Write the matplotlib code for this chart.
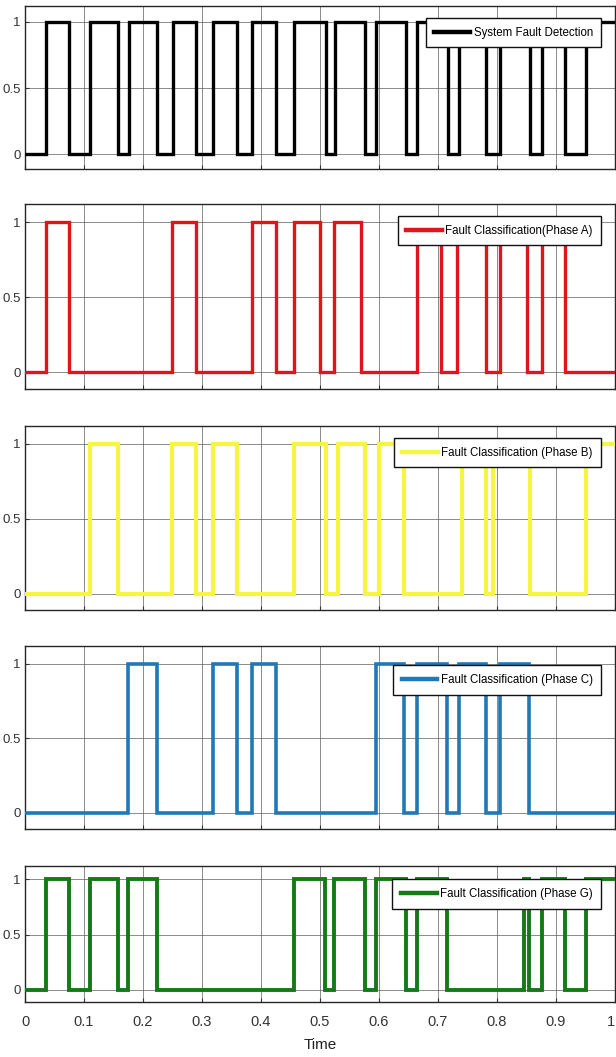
import matplotlib
matplotlib.use('Agg')
import matplotlib.pyplot as plt
from matplotlib import font_manager
import numpy as np

names = set(f.name for f in font_manager.fontManager.ttflist)
FONT = 'Liberation Sans Narrow' if 'Liberation Sans Narrow' in names else 'Liberation Sans'
plt.rcParams['font.family'] = [FONT, 'DejaVu Sans']

# switching instants (s), every signal starts at 0 and toggles at each instant
fault_detection = [0.035, 0.075, 0.110, 0.158, 0.176, 0.224, 0.250, 0.289, 0.319, 0.359,
                   0.385, 0.426, 0.456, 0.510, 0.526, 0.576, 0.595, 0.645, 0.665, 0.717,
                   0.735, 0.781, 0.805, 0.856, 0.876, 0.916, 0.951]
phase_a = [0.035, 0.075, 0.249, 0.289, 0.385, 0.426, 0.456, 0.500, 0.524, 0.569,
           0.665, 0.705, 0.733, 0.781, 0.805, 0.850, 0.876, 0.916]
phase_b = [0.110, 0.158, 0.249, 0.289, 0.319, 0.359, 0.456, 0.510, 0.530, 0.576,
           0.600, 0.643, 0.740, 0.781, 0.793, 0.856, 0.951]
phase_c = [0.174, 0.224, 0.319, 0.359, 0.385, 0.426, 0.595, 0.643, 0.665, 0.715,
           0.735, 0.781, 0.805, 0.855]
phase_g = [0.035, 0.075, 0.110, 0.158, 0.174, 0.224, 0.456, 0.509, 0.524, 0.576,
           0.595, 0.645, 0.665, 0.715, 0.846, 0.855, 0.876, 0.916, 0.951]

signals = [fault_detection, phase_a, phase_b, phase_c, phase_g]
labels = ['System Fault Detection', 'Fault Classification(Phase A)',
          'Fault Classification (Phase B)', 'Fault Classification (Phase C)',
          'Fault Classification (Phase G)']
colors = ['#000000', '#e0151b', '#f5f542', '#2277b5', '#17781a']
widths = [2.4, 2.4, 3.0, 2.6, 2.8]

x_ticks = [0, 0.1, 0.2, 0.3, 0.4, 0.5, 0.6, 0.7, 0.8, 0.9, 1]
x_tick_labels = ['0', '0.1', '0.2', '0.3', '0.4', '0.5', '0.6', '0.7', '0.8', '0.9', '1']
y_ticks = [0, 0.5, 1]
y_tick_labels = ['0', '0.5', '1']

# axes extents in pixels from the top (top, bottom) and legend top in data units
W, H = 616, 1057
boxes = [(6, 169), (204, 389), (426, 610), (646, 829), (866, 1002)]
legend_top = [1.03, 1.04, 1.04, 0.99, 1.0]

fig = plt.figure(figsize=(W / 100, H / 100), dpi=100)

for i, edges in enumerate(signals):
    top, bottom = boxes[i]
    ax = fig.add_axes([25 / W, 1 - bottom / H, 590 / W, (bottom - top) / H])

    t = [0] + edges + [1]
    lev = [k % 2 for k in range(len(edges) + 1)]
    lev = lev + [lev[-1]]
    ax.step(t, lev, where='post', color=colors[i], lw=widths[i], label=labels[i],
            solid_joinstyle='miter', zorder=3)

    ax.set_xlim(0, 1)
    ax.set_ylim(-0.11, 1.12)
    ax.set_xticks(x_ticks)
    ax.set_yticks(y_ticks)
    ax.set_yticklabels(y_tick_labels)
    ax.tick_params(direction='in', length=3, width=0.8, colors='#333333',
                   labelsize=9.5, pad=3)
    if i == len(signals) - 1:
        ax.set_xticklabels(x_tick_labels)
        ax.get_xticklabels()[-1].set_horizontalalignment('right')
        ax.tick_params(axis='x', pad=9, labelsize=10.5)
        ax.set_xlabel('Time', fontsize=11, color='#222222', labelpad=7)
    else:
        ax.set_xticklabels([])
    ax.grid(True, color='#555555', lw=0.6, alpha=0.8)
    for s in ax.spines.values():
        s.set_color('#262626')
        s.set_linewidth(1.0)

    leg = ax.legend(loc='upper right', bbox_to_anchor=(0.977, legend_top[i]),
                    bbox_transform=ax.transData, borderaxespad=0, fancybox=False,
                    framealpha=1, edgecolor='#111111', fontsize=8.3, handlelength=3.1,
                    handletextpad=0.3, borderpad=0.75)
    leg.get_frame().set_linewidth(1.0)
    for ln in leg.get_lines():
        ln.set_linewidth(3.2)

fig.savefig('out.png', dpi=100)
